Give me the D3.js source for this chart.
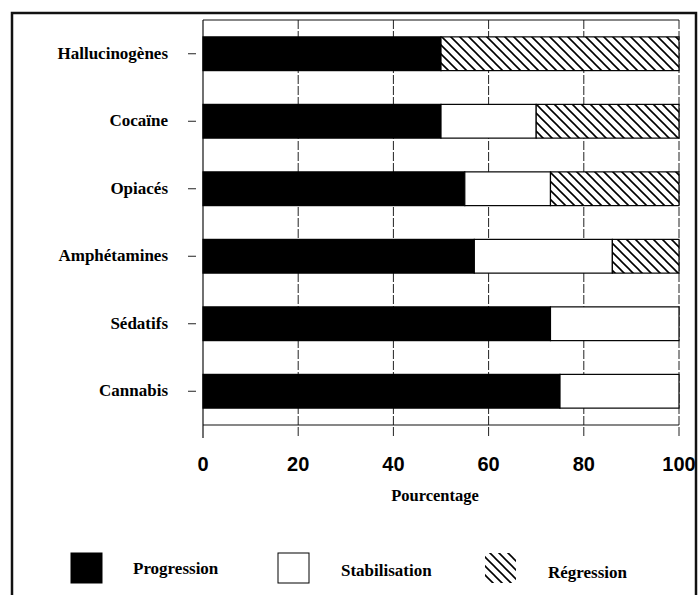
<!DOCTYPE html>
<html>
<head>
<meta charset="utf-8">
<script src="https://cdn.jsdelivr.net/npm/d3@7"></script>
<style>
  body { margin: 0; background: #fff; }
  text { font-family: "Liberation Serif", "DejaVu Serif", serif; fill: #000; }
</style>
</head>
<body>
<div id="chart"></div>
<script>
// Drug categories, top to bottom
const categories = ["Hallucinogènes", "Cocaïne", "Opiacés", "Amphétamines", "Sédatifs", "Cannabis"];
// Percentages for each trend
const progression  = [50, 50, 55, 57, 73, 75];
const stabilisation = [0, 20, 18, 29, 27, 25];
const regression   = [50, 30, 27, 14, 0, 0];
const xTicks = [0, 20, 40, 60, 80, 100];
const seriesNames = ["Progression", "Stabilisation", "Régression"];

const w = 698, h = 595;
const svg = d3.select("#chart").append("svg").attr("width", w).attr("height", h);

// Outer frame
svg.append("rect").attr("x", 12).attr("y", 13).attr("width", 684).attr("height", 600)
  .attr("fill", "none").attr("stroke", "#111").attr("stroke-width", 2.5);

// Hatch pattern for regression
let defs = svg.append("defs");
let pat = defs.append("pattern").attr("id", "hatch").attr("patternUnits", "userSpaceOnUse")
  .attr("width", 9).attr("height", 9);
pat.append("rect").attr("width", 9).attr("height", 9).attr("fill", "#fff");
pat.append("path").attr("d", "M0,0 L9,9 M-2,7 L2,11 M7,-2 L11,2")
  .attr("stroke", "#000").attr("stroke-width", 1.6);

// Scales
let x = d3.scaleLinear().domain([0, 100]).range([203, 679]);
let y = d3.scaleBand().domain(categories).range([20, 425]).paddingInner(0.5).paddingOuter(0.25);

// Grid lines
svg.append("g").selectAll("line").data(xTicks.slice(1)).join("line")
  .attr("x1", (d) => x(d)).attr("x2", (d) => x(d)).attr("y1", 20).attr("y2", 438)
  .attr("stroke", "#222").attr("stroke-width", 1).attr("stroke-dasharray", "9,2");

// Plot frame: top, left, bottom
svg.append("line").attr("x1", x(0)).attr("x2", x(100)).attr("y1", 20).attr("y2", 20).attr("stroke", "#111").attr("stroke-width", 1.2);
svg.append("line").attr("x1", x(0)).attr("x2", x(100)).attr("y1", 425).attr("y2", 425).attr("stroke", "#111").attr("stroke-width", 1.2);
svg.append("line").attr("x1", x(0)).attr("x2", x(0)).attr("y1", 20).attr("y2", 438).attr("stroke", "#111").attr("stroke-width", 1.2);

// Stacked bars
let stackData = categories.map((c, i) => ({ cat: c, Progression: progression[i], Stabilisation: stabilisation[i], "Régression": regression[i] }));
let stacked = d3.stack().keys(seriesNames)(stackData);
let fills = { "Progression": "#000", "Stabilisation": "#fff", "Régression": "url(#hatch)" };

stacked.forEach((layer) => {
  svg.append("g").selectAll("rect").data(layer.filter((d) => d[1] > d[0])).join("rect")
    .attr("x", (d) => x(d[0])).attr("width", (d) => x(d[1]) - x(d[0]))
    .attr("y", (d) => y(d.data.cat)).attr("height", y.bandwidth())
    .attr("fill", fills[layer.key]).attr("stroke", "#000").attr("stroke-width", 1.2);
});

// Category labels & ticks
let yg = svg.append("g");
yg.selectAll("text").data(categories).join("text")
  .attr("x", 168).attr("y", (d) => y(d) + y.bandwidth() / 2).attr("dy", "0.3em")
  .attr("text-anchor", "end").attr("font-size", 17).attr("font-weight", "bold").text((d) => d);
yg.selectAll("line").data(categories).join("line")
  .attr("x1", 188).attr("x2", 196).attr("y1", (d) => y(d) + y.bandwidth() / 2).attr("y2", (d) => y(d) + y.bandwidth() / 2)
  .attr("stroke", "#222").attr("stroke-width", 1);

// X tick labels
svg.append("g").selectAll("text").data(xTicks).join("text")
  .attr("x", (d) => x(d)).attr("y", 471).attr("text-anchor", "middle")
  .style("font-family", "'Liberation Sans', Arial, sans-serif")
  .attr("font-size", 20).attr("font-weight", "bold").text((d) => d);

// Axis title
svg.append("text").text("Pourcentage").attr("x", 435).attr("y", 501).attr("text-anchor", "middle")
  .attr("font-size", 16.5).attr("font-weight", "bold");

// Legend
let legendX = [71, 278, 485], legendTextX = [133, 341, 548];
seriesNames.forEach((s, i) => {
  svg.append("rect").attr("x", legendX[i]).attr("y", 553).attr("width", 31).attr("height", 30)
    .attr("fill", fills[s]).attr("stroke", i == 2 ? "none" : "#000").attr("stroke-width", 1);
  svg.append("text").text(s).attr("x", legendTextX[i]).attr("y", 574 + i * 2)
    .attr("font-size", 17).attr("font-weight", "bold");
});
</script>
</body>
</html>
